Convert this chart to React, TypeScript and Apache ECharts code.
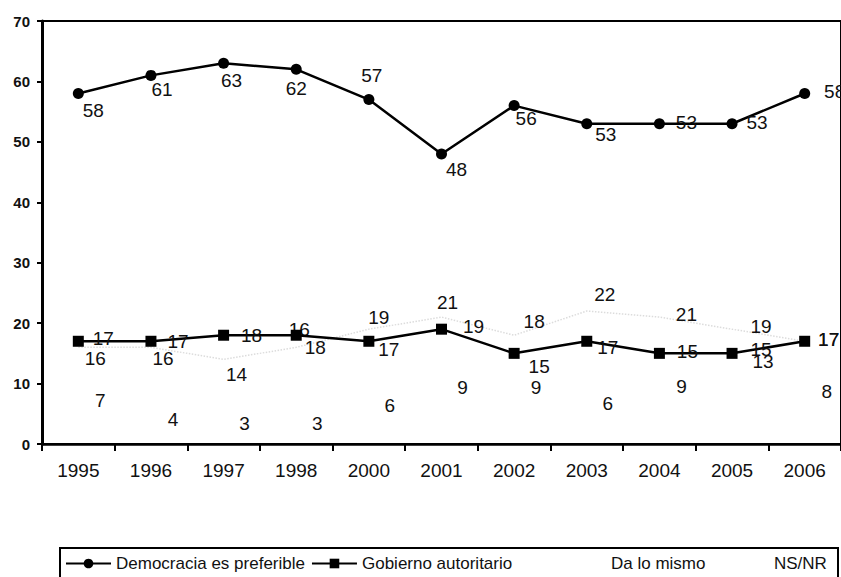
import React, { useEffect, useRef } from "react";
import * as echarts from "echarts";

const years = ["1995", "1996", "1997", "1998", "2000", "2001", "2002", "2003", "2004", "2005", "2006"];
const democracia = [58, 61, 63, 62, 57, 48, 56, 53, 53, 53, 58];
const autoritario = [17, 17, 18, 18, 17, 19, 15, 17, 15, 15, 17];
const daLoMismo = [16, 16, 14, 16, 19, 21, 18, 22, 21, 19, 17];
const nsnr = [7, 4, 3, 3, 6, 9, 9, 6, 9, 13, 8];

const seriesNames = ["Democracia es preferible", "Gobierno autoritario", "Da lo mismo", "NS/NR"];

// label offsets (px) relative to each point, styling only
const demOffsets = [[15, 17], [11, 14], [8, 17], [0, 19], [3, -24], [15, 16], [12, 13], [19, 11], [27, -1], [25, -1], [30, -2]];
const autOffsets = [[25, -3], [27, 0], [28, 0], [19, 12], [20, 8], [32, -3], [25, 13], [21, 6], [28, -2], [29, -4], [24, -2]];
const daOffsets = [[17, 11], [12, 11], [13, 15], [3, -18], [10, -12], [6, -15], [20, -14], [18, -17], [27, -3], [29, -3], [24, -2]];
const nsOffsets = [[22, -1], [22, 0], [21, -2], [21, -2], [21, -2], [21, -2], [22, -2], [21, -4], [22, -3], [31, -4], [22, -4]];

const FONT = "'Liberation Sans', Arial, sans-serif";

function withLabels(values: number[], offsets: number[][]) {
  return values.map((v, i) => ({ value: v, label: { offset: offsets[i] } }));
}

export default function App() {
  const ref = useRef<HTMLDivElement>(null);
  useEffect(() => {
    if (!ref.current) return;
    const chart = echarts.init(ref.current, undefined, { renderer: "svg" });
    const baseLabel = {
      show: true,
      position: "inside",
      fontSize: 19,
      fontFamily: FONT,
      color: "#111",
    };
    chart.setOption({
      animation: false,
      backgroundColor: "#fff",
      grid: {
        left: 42,
        top: 21,
        right: 0,
        bottom: 133,
        show: true,
        borderColor: "#000",
        borderWidth: 2,
        backgroundColor: "transparent",
      },
      xAxis: {
        type: "category",
        data: years,
        boundaryGap: true,
        axisLine: { lineStyle: { color: "#000", width: 2.5 } },
        axisTick: { show: true, length: 7, lineStyle: { color: "#000", width: 2 } },
        axisLabel: { color: "#111", fontSize: 19, fontFamily: FONT, margin: 17 },
        splitLine: { show: false },
      },
      yAxis: {
        type: "value",
        min: 0,
        max: 70,
        interval: 10,
        axisLine: { show: true, lineStyle: { color: "#000", width: 3 } },
        axisTick: { show: true, length: 5, lineStyle: { color: "#000", width: 2 } },
        axisLabel: { color: "#111", fontSize: 15, fontWeight: "bold", fontFamily: FONT, margin: 12 },
        splitLine: { show: false },
      },
      legend: [
        {
          left: 65,
          top: 555,
          padding: 0,
          itemWidth: 45,
          itemHeight: 12,
          itemGap: 6,
          textStyle: { fontSize: 17, fontFamily: FONT, color: "#111" },
          data: [seriesNames[0], seriesNames[1]],
        },
        {
          left: 560,
          top: 555,
          padding: 0,
          itemWidth: 45,
          itemHeight: 12,
          textStyle: { fontSize: 17, fontFamily: FONT, color: "#111" },
          data: [{ name: seriesNames[2], itemStyle: { opacity: 0 }, lineStyle: { opacity: 0 } }],
        },
        {
          left: 723,
          top: 555,
          padding: 0,
          itemWidth: 45,
          itemHeight: 12,
          textStyle: { fontSize: 17, fontFamily: FONT, color: "#111" },
          data: [{ name: seriesNames[3], itemStyle: { opacity: 0 }, lineStyle: { opacity: 0 } }],
        },
      ],
      graphic: [
        {
          type: "rect",
          shape: { x: 60, y: 548, width: 778, height: 40 },
          style: { fill: "none", stroke: "#000", lineWidth: 2 },
          silent: true,
        },
      ],
      series: [
        {
          name: seriesNames[2],
          type: "line",
          data: withLabels(daLoMismo, daOffsets),
          symbol: "circle",
          symbolSize: 1,
          itemStyle: { color: "rgba(0,0,0,0)" },
          lineStyle: { color: "#dcdcdc", width: 1.5, type: "dotted" },
          label: baseLabel,
          z: 1,
        },
        {
          name: seriesNames[3],
          type: "line",
          data: withLabels(nsnr, nsOffsets),
          symbol: "circle",
          symbolSize: 1,
          itemStyle: { color: "rgba(0,0,0,0)" },
          lineStyle: { opacity: 0 },
          label: baseLabel,
          z: 1,
        },
        {
          name: seriesNames[1],
          type: "line",
          data: withLabels(autoritario, autOffsets),
          symbol: "rect",
          symbolSize: 11,
          itemStyle: { color: "#000" },
          lineStyle: { color: "#000", width: 2.5 },
          label: baseLabel,
          z: 3,
        },
        {
          name: seriesNames[0],
          type: "line",
          data: withLabels(democracia, demOffsets),
          symbol: "circle",
          symbolSize: 11,
          itemStyle: { color: "#000" },
          lineStyle: { color: "#000", width: 2.5 },
          label: baseLabel,
          z: 3,
        },
      ],
    });
    return () => chart.dispose();
  }, []);
  return (
    <div
      ref={ref}
      style={{ position: "fixed", left: 0, top: 0, width: 841, height: 577, background: "#fff" }}
    />
  );
}
